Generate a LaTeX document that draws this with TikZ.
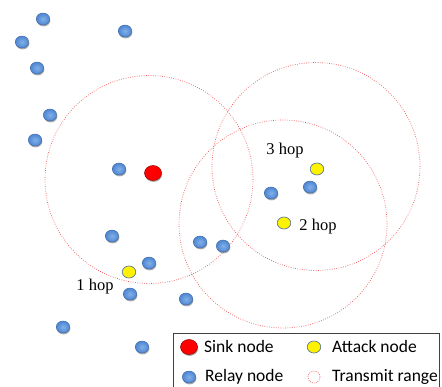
\documentclass[tikz,border=0pt]{standalone}
\usepackage{fontspec}
\setmainfont{Liberation Serif}
\newfontfamily\legfont{Carlito}
\usetikzlibrary{shadows,shapes.geometric}
\definecolor{relayA}{RGB}{130,175,232}
\definecolor{relayB}{RGB}{78,134,210}
\definecolor{relayE}{RGB}{60,105,170}
\definecolor{rangec}{RGB}{240,80,80}
\definecolor{attackE}{RGB}{95,125,150}
\tikzset{
  x=1pt, y=-1pt,
  shad/.style={drop shadow={shadow xshift=0.6pt, shadow yshift=-1.4pt, opacity=0.35, fill=black}},
  relay/.style={ellipse, minimum width=13.5pt, minimum height=12pt, inner sep=0pt,
    draw=relayE, line width=0.4pt, inner color=relayA, outer color=relayB, shad},
  sink/.style={ellipse, minimum width=17pt, minimum height=15pt, inner sep=0pt,
    draw=red!60!black, line width=0.5pt, fill=red, shad},
  attack/.style={ellipse, minimum width=13.5pt, minimum height=12pt, inner sep=0pt,
    draw=attackE, line width=0.7pt, fill=yellow},
  txrange/.style={circle, minimum size=208pt, inner sep=0pt, draw=rangec,
    line width=0.7pt, dash pattern=on 0.7pt off 1.6pt},
  hoplabel/.style={font=\fontsize{16.5}{18}\selectfont, inner sep=0pt},
  legtext/.style={font=\legfont\fontsize{17.5}{19}\selectfont, inner sep=0pt, anchor=west}
}
\begin{document}
\begin{tikzpicture}
\useasboundingbox (0,0) rectangle (442,387);
% transmit ranges
\node[txrange] (r1) at (149,179.5) {};
\node[txrange] (r2) at (316,166.5) {};
\node[txrange] (r3) at (283,224) {};
% relay nodes
\node[relay] (n1) at (43,19) {};
\node[relay] (n2) at (125,31) {};
\node[relay] (n3) at (22,42) {};
\node[relay] (n4) at (37,68) {};
\node[relay] (n5) at (50,115) {};
\node[relay] (n6) at (35,140) {};
\node[relay] (n7) at (119,169) {};
\node[relay] (n8) at (271,193) {};
\node[relay] (n9) at (310,187) {};
\node[relay] (n10) at (112,236) {};
\node[relay] (n11) at (149,263) {};
\node[relay] (n12) at (130,294) {};
\node[relay] (n13) at (186,299) {};
\node[relay] (n14) at (200,242) {};
\node[relay] (n15) at (223,246) {};
\node[relay] (n16) at (63,327) {};
\node[relay] (n17) at (142,347) {};
% sink and attackers
\node[sink] (sink) at (153,173) {};
\node[attack] (a1) at (129,272) {};
\node[attack] (a2) at (284,223) {};
\node[attack] (a3) at (317,169) {};
% hop labels
\node[hoplabel] (h1) at (95,287) {1 hop};
\node[hoplabel] (h2) at (318,227) {2 hop};
\node[hoplabel] (h3) at (285,151) {3 hop};
% legend
\draw[line width=0.8pt, draw=black!75, fill=white] (173,333.5) rectangle (439.5,395);
\node[sink] (ls) at (189,347) {};
\node[legtext] (lst) at (204,346.5) {Sink node};
\node[attack] (la) at (314,347) {};
\node[legtext] (lat) at (332,346.5) {Attack node};
\node[relay] (lr) at (189,377) {};
\node[legtext] (lrt) at (205,376.5) {Relay node};
\node[circle, minimum size=12pt, inner sep=0pt, draw=rangec, line width=0.7pt, dash pattern=on 0.7pt off 1.3pt] (lt) at (314,377) {};
\node[legtext] (ltt) at (332,376.5) {Transmit range};
\end{tikzpicture}
\end{document}
